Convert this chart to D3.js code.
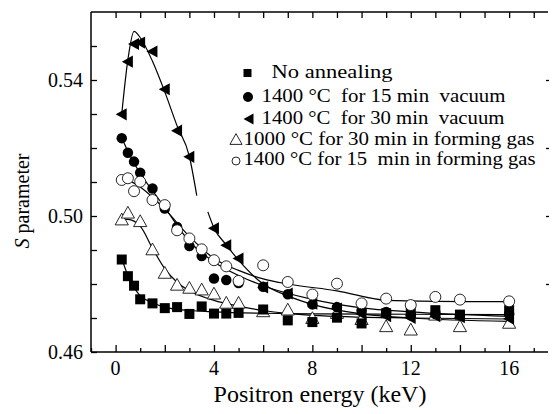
<!DOCTYPE html>
<html>
<head>
<meta charset="utf-8">
<script src="https://cdn.jsdelivr.net/npm/d3@7"></script>
</head>
<body style="margin:0">
<svg id="chart" width="552" height="414"></svg>
<script>
var noAnneal = [[0.25,0.4872],[0.5,0.4823],[0.75,0.4795],[1,0.4755],[1.5,0.4743],[2,0.4729],[2.5,0.4732],[3,0.4712],[3.5,0.4734],[4,0.4713],[4.5,0.4713],[5,0.4715],[6,0.4725],[7,0.4693],[8,0.4688],[9,0.4701],[10,0.4684],[11,0.4714],[12,0.4717],[13,0.4723],[14,0.4710],[16,0.4723]];
var vac15 = [[0.25,0.5229],[0.5,0.5186],[0.75,0.5160],[1,0.5127],[1.5,0.5081],[2,0.5022],[2.5,0.4968],[3,0.4912],[3.5,0.4882],[4,0.4816],[4.5,0.4812],[5,0.4803],[6,0.4792],[7,0.4770],[8,0.4740],[9,0.4732],[10,0.4722],[11,0.4718],[12,0.4708],[13,0.4712],[14,0.4708],[16,0.4712]];
var vac30 = [[0.25,0.5299],[0.5,0.5454],[0.75,0.5506],[1,0.5510],[1.5,0.5484],[2,0.5373],[2.5,0.5251],[3,0.5174],[4,0.4964],[4.5,0.4914],[5,0.4875],[6,0.4790],[7,0.4772],[8,0.4742],[9,0.4728],[10,0.4712],[11,0.4705],[12,0.4700],[13,0.4705],[14,0.4702],[16,0.4698]];
var gas1000 = [[0.25,0.4988],[0.5,0.5008],[1,0.4983],[1.5,0.4900],[2,0.4831],[2.5,0.4796],[3,0.4787],[3.5,0.4782],[4,0.4770],[4.5,0.4743],[5,0.4743],[6,0.4718],[7,0.4723],[8,0.4698],[9,0.4713],[10,0.4695],[11,0.4674],[12,0.4664],[13,0.4708],[14,0.4674],[16,0.4684]];
var gas1400 = [[0.25,0.5106],[0.5,0.5111],[0.75,0.5073],[1,0.5101],[1.5,0.5047],[2,0.5032],[2.5,0.4958],[3,0.4934],[3.5,0.4902],[4,0.4870],[4.5,0.4852],[5,0.4809],[6,0.4855],[7,0.4806],[8,0.4769],[9,0.4801],[10,0.4743],[11,0.4757],[12,0.4738],[13,0.4762],[14,0.4754],[16,0.4749]];

// fitted curves (the 30 min vacuum curve has a break near 3.5 keV)
var fitNoAnneal = [[0.25,0.4875],[0.5,0.4825],[0.75,0.4790],[1,0.4765],[1.5,0.4745],[2,0.4732],[3,0.4722],[4,0.4718],[6,0.4714],[8,0.4712],[12,0.4711],[16,0.4710]];
var fitVac15 = [[0.25,0.5230],[0.5,0.5190],[1,0.5125],[1.5,0.5075],[2,0.5025],[3,0.4925],[4,0.4865],[5,0.4825],[6,0.4795],[8,0.4755],[10,0.4730],[12,0.4718],[16,0.4705]];
var fitVac30a = [[0.25,0.5300],[0.5,0.5460],[0.75,0.5543],[1,0.5525],[1.5,0.5455],[2,0.5365],[2.5,0.5265],[3,0.5175],[3.3,0.5060]];
var fitVac30b = [[3.75,0.5012],[4,0.4965],[4.5,0.4915],[5,0.4870],[6,0.4800],[7,0.4765],[8,0.4740],[10,0.4712],[12,0.4700],[16,0.4690]];
var fitGas1000 = [[0.25,0.4990],[0.5,0.4990],[1,0.4970],[1.5,0.4905],[2,0.4845],[2.5,0.4805],[3,0.4780],[4,0.4752],[5,0.4735],[6,0.4722],[8,0.4708],[12,0.4700],[16,0.4697]];
var fitGas1400 = [[0.25,0.5108],[0.5,0.5105],[1,0.5085],[1.5,0.5055],[2,0.5020],[3,0.4940],[4,0.4875],[5,0.4840],[6,0.4815],[7,0.4800],[9,0.4780],[11,0.4752],[13,0.4749],[16,0.4748]];

var legendLabels = ["No annealing", "1400 °C  for 15 min  vacuum", "1400 °C  for 30 min  vacuum", "1000 °C for 30 min in forming gas", "1400 °C for 15  min in forming gas"];
var xTickLabels = [0, 4, 8, 12, 16];
var yTickLabels = [0.46, 0.50, 0.54];

var FONT = "'Times New Roman'";
var svg = d3.select("#chart");
var x = d3.scaleLinear().domain([-1, 17.58]).range([91, 548]);
var y = d3.scaleLinear().domain([0.46, 0.56]).range([352, 12]);

// frame lines
svg.append("line").attr("x1", 91).attr("x2", 91).attr("y1", 12).attr("y2", 352).attr("stroke", "#000").attr("stroke-width", 1.5);
svg.append("line").attr("x1", 91).attr("x2", 548).attr("y1", 352).attr("y2", 352).attr("stroke", "#000").attr("stroke-width", 1.5);
svg.append("line").attr("x1", 91).attr("x2", 548).attr("y1", 12).attr("y2", 12).attr("stroke", "#000").attr("stroke-width", 1.5);

// ticks only, labels are added as plain text below
svg.append("g").attr("transform", "translate(0,352)")
	.call(d3.axisBottom(x).tickValues(d3.range(0, 17, 2)).tickSizeInner(-7).tickSizeOuter(0).tickFormat(""));
svg.append("g").attr("transform", "translate(0,352)")
	.call(d3.axisBottom(x).tickValues(d3.range(-1, 18, 2)).tickSizeInner(-4).tickSizeOuter(0).tickFormat(""));
svg.append("g").attr("transform", "translate(0,12)")
	.call(d3.axisTop(x).tickValues(d3.range(0, 18, 1)).tickSizeInner(-6).tickSizeOuter(0).tickFormat(""));
svg.append("g").attr("transform", "translate(91,0)")
	.call(d3.axisLeft(y).tickValues(d3.range(0.46, 0.555, 0.01)).tickSizeInner(-6).tickSizeOuter(0).tickFormat(""));
svg.append("g").attr("transform", "translate(549,0)")
	.call(d3.axisRight(y).tickValues([0.48, 0.50, 0.52, 0.54]).tickSizeInner(-3).tickSizeOuter(0).tickFormat(""));
svg.selectAll(".domain").remove();
svg.selectAll(".tick line").attr("stroke", "#000").attr("stroke-width", 1.3);

// tick labels
xTickLabels.forEach(function(v) {
	svg.append("text").attr("x", x(v)).attr("y", 375).style("font-family", FONT).attr("font-size", 20)
		.attr("text-anchor", "middle").text(v);
});
yTickLabels.forEach(function(v) {
	svg.append("text").attr("x", 83).attr("y", y(v) + 7).style("font-family", FONT).attr("font-size", 20)
		.attr("text-anchor", "end").text(v.toFixed(2));
});

// axis titles
svg.append("text").attr("x", 320).attr("y", 402).style("font-family", FONT).attr("font-size", 24)
	.attr("text-anchor", "middle").text("Positron energy (keV)");
var yt = svg.append("text").attr("transform", "translate(29,201) rotate(-90)").style("font-family", FONT).attr("font-size", 20)
	.attr("text-anchor", "middle");
yt.append("tspan").attr("font-style", "italic").text("S");
yt.append("tspan").text(" parameter");

// fit lines
var line = d3.line().x(function(d) { return x(d[0]); }).y(function(d) { return y(d[1]); }).curve(d3.curveMonotoneX);
[fitNoAnneal, fitVac15, fitVac30a, fitVac30b, fitGas1000, fitGas1400].forEach(function(f) {
	svg.append("path").datum(f).attr("d", line).attr("fill", "none").attr("stroke", "#000").attr("stroke-width", 1.2);
});

// marker shapes
function square(g, s) { g.append("rect").attr("x", -s/2).attr("y", -s/2).attr("width", s).attr("height", s).attr("fill", "#000"); }
function dot(g, s) { g.append("circle").attr("r", s/2).attr("fill", "#000"); }
function leftTri(g, s) { g.append("path").attr("d", "M" + (-s*0.55) + ",0L" + (s*0.45) + "," + (-s*0.55) + "L" + (s*0.45) + "," + (s*0.55) + "Z").attr("fill", "#000"); }
function openTri(g, s) { g.append("path").attr("d", "M0," + (-s*0.58) + "L" + (s*0.55) + "," + (s*0.4) + "L" + (-s*0.55) + "," + (s*0.4) + "Z").attr("fill", "#fff").attr("stroke", "#111").attr("stroke-width", 0.9); }
function openDot(g, s) { g.append("circle").attr("r", s/2).attr("fill", "#fff").attr("stroke", "#111").attr("stroke-width", 0.9); }

function drawSeries(data, shape, size) {
	data.forEach(function(d) {
		var g = svg.append("g").attr("transform", "translate(" + x(d[0]) + "," + y(d[1]) + ")");
		shape(g, size);
	});
}
drawSeries(gas1000, openTri, 12);
drawSeries(noAnneal, square, 10);
drawSeries(vac15, dot, 10.5);
drawSeries(vac30, leftTri, 11);
drawSeries(gas1400, openDot, 11);

// legend (text widened to the width it has in the figure)
var shapes = [square, dot, leftTri, openTri, openDot];
var legendSizes = [8, 10, 10, 11, 8];
var legendMarkY = [73, 97, 119, 140, 161];
var legendBase = [78, 102, 124, 145, 165];
var legendTextX = [271.5, 261.5, 261.5, 243.5, 243.5];
var legendTextW = [121, 244, 243, 291, 292];
var legendMarkX = [247.5, 248, 249, 236, 236];
legendLabels.forEach(function(t, i) {
	var g = svg.append("g").attr("transform", "translate(" + legendMarkX[i] + "," + legendMarkY[i] + ")");
	shapes[i](g, legendSizes[i]);
	svg.append("text").attr("x", legendTextX[i]).attr("y", legendBase[i]).style("font-family", FONT).attr("font-size", 18)
		.style("white-space", "pre").attr("textLength", legendTextW[i]).attr("lengthAdjust", "spacingAndGlyphs").text(t);
});
</script>
</body>
</html>
